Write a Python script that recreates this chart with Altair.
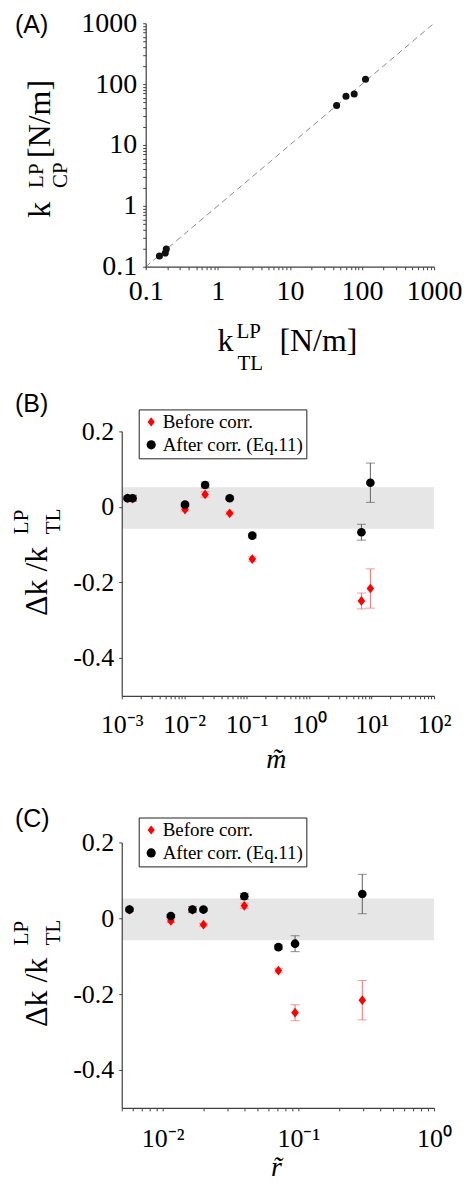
import math
import altair as alt
import pandas as pd

# ---------------- Panel (A) data ----------------
k_tl = [0.155, 0.187, 0.193, 44.5, 60.0, 78.0, 112.0]
k_cp = [0.150, 0.168, 0.195, 44.6, 63.0, 69.0, 120.0]
diag = [0.1, 1000.0]
a_domain = [0.1, 1000.0]
a_ticks = [0.1, 1, 10, 100, 1000]
a_tick_labels = ["0.1", "1", "10", "100", "1000"]

# ---------------- Panels (B), (C) data ----------------
series = ["Before corr.", "After corr. (Eq.11)"]
m_tilde = [0.00124, 0.00149, 0.0103, 0.0216, 0.0535, 0.123, 6.87, 9.56]
r_tilde = [0.0057, 0.0166, 0.0115, 0.040, 0.020, 0.0713, 0.0946, 0.296]
before = [0.023, 0.022, -0.007, 0.033, -0.017, -0.138, -0.249, -0.216]
before_err = [0.004, 0.004, 0.004, 0.007, 0.004, 0.006, 0.021, 0.052]
after = [0.023, 0.023, 0.006, 0.058, 0.023, -0.076, -0.067, 0.064]
after_err = [0.004, 0.008, 0.004, 0.008, 0.004, 0.006, 0.021, 0.052]
band = [-0.058, 0.052]
m_domain = [0.001, 100.0]
r_domain = [0.005, 1.0]
m_ticks = [0.001, 0.01, 0.1, 1, 10, 100]
m_tick_labels = ["10⁻³", "10⁻²", "10⁻¹", "10⁰", "10¹", "10²"]
r_ticks = [0.01, 0.1, 1]
r_tick_labels = ["10⁻²", "10⁻¹", "10⁰"]
dk_domain = [-0.5, 0.2]
dk_ticks = [0.2, 0, -0.2, -0.4]
dk_tick_labels = ["0.2", "0", "-0.2", "-0.4"]

SERIF = "Liberation Serif"
SANS = "Liberation Sans"
W = 313


def log_ticks(lo, hi):
    vals = []
    e = math.floor(math.log10(lo) + 1e-9)
    while float(f"1e{e}") <= hi * 1.0001:
        for k in range(1, 10):
            v = float(f"{k}e{e}")
            if lo * 0.9999 <= v <= hi * 1.0001:
                vals.append(v)
        e += 1
    return vals


def label_expr(vals, labs):
    s = "''"
    for v, l in reversed(list(zip(vals, labs))):
        s = f"datum.value == {v!r} ? '{l}' : ({s})"
    return s


common = dict(domainColor="#404040", domainWidth=1.2, tickColor="#404040",
              tickWidth=1, tickSize=3, labelFont=SERIF, labelColor="black",
              grid=False, title=None, labelOverlap=False, labelFlush=False,
              zindex=1)


def txt(text, x, y, size, angle=0, font=SERIF, style="normal", align="left"):
    return alt.Chart(pd.DataFrame({"t": [text]})).mark_text(
        align=align, baseline="alphabetic", fontSize=size, font=font,
        fontStyle=style, angle=angle, color="black"
    ).encode(x=alt.value(x), y=alt.value(y), text="t:N")


# ---------------- Panel (A) ----------------
A_H = 244
xsA = alt.Scale(type="log", domain=a_domain, range=[24, W], nice=False)
ysA = alt.Scale(type="log", domain=a_domain, range=[A_H, 0], nice=False)
xaA = alt.Axis(values=log_ticks(*a_domain), labelExpr=label_expr(a_ticks, a_tick_labels),
               labelFontSize=28, labelPadding=8, offset=-18, **common)
yaA = alt.Axis(values=log_ticks(*a_domain), labelExpr=label_expr(a_ticks, a_tick_labels),
               labelFontSize=28, labelPadding=6, offset=-24, **common)
XA = alt.X("kx:Q", scale=xsA, axis=xaA)
YA = alt.Y("ky:Q", scale=ysA, axis=yaA)

diag_layer = alt.Chart(pd.DataFrame({"kx": diag, "ky": diag})).mark_line(
    color="#8c8c8c", strokeDash=[6, 4], strokeWidth=1).encode(x=XA, y=YA)
ptsA = alt.Chart(pd.DataFrame({"kx": k_tl, "ky": k_cp})).mark_point(
    filled=True, size=50, color="#111111", opacity=1).encode(x=XA, y=YA)

panelA = alt.layer(
    diag_layer, ptsA,
    txt("(A)", -107, 10, 25, font=SANS),
    # y title: k_CP^LP [N/m]
    txt("k", -72, 195, 32, angle=270),
    txt("LP", -79, 165, 21, angle=270),
    txt("CP", -55, 165, 21, angle=270),
    txt("[N/m]", -72, 135, 32, angle=270),
    # x title: k_TL^LP [N/m]
    txt("k", 96, 328, 32),
    txt("LP", 115, 315, 21),
    txt("TL", 116, 348, 21),
    txt("[N/m]", 158, 328, 32),
).properties(width=W, height=262)


# ---------------- Panels (B) / (C) ----------------
def make_legend(legend_y):
    return alt.Legend(orient="none", legendX=17, legendY=legend_y, title=None,
                      strokeColor="#222222", fillColor="white", padding=3,
                      labelFont=SERIF, labelFontSize=19, labelColor="black",
                      symbolSize=85, labelLimit=400, rowPadding=3,
                      labelOffset=2, symbolStrokeWidth=0, cornerRadius=0)


def dk_panel(xvals, xdomain, major, labels, xtitle, tag, legend_y, height, xlabpad, tag_y, xt_y):
    xs = alt.Scale(type="log", domain=xdomain, nice=False)
    ys = alt.Scale(domain=dk_domain, nice=False, zero=False)
    xa = alt.Axis(values=log_ticks(*xdomain), labelExpr=label_expr(major, labels),
                  labelFontSize=26, labelPadding=xlabpad, **common)
    ya = alt.Axis(values=dk_ticks, labelExpr=label_expr(dk_ticks, dk_tick_labels),
                  labelFontSize=26, labelPadding=5, **common)

    def X(f):
        return alt.X(f, type="quantitative", scale=xs, axis=xa)

    def Y(f):
        return alt.Y(f, type="quantitative", scale=ys, axis=ya)

    color = alt.Color("s:N", scale=alt.Scale(domain=series, range=["#ff0000", "#000000"]),
                      legend=make_legend(legend_y))
    shape = alt.Shape("s:N", scale=alt.Scale(domain=series,
                                             range=["M0,-1L0.78,0L0,1L-0.78,0Z", "circle"]),
                      legend=make_legend(legend_y))

    band_df = pd.DataFrame({"x": [xdomain[0]], "x2": [xdomain[1]],
                            "lo": [band[0]], "hi": [band[1]]})
    band_layer = alt.Chart(band_df).mark_rect(color="#e6e6e6").encode(
        x=X("x"), x2="x2", y=Y("lo"), y2="hi")

    layers = [band_layer]
    for name, vals, errs, ecol, msize in [(series[0], before, before_err, "#f07070", 95),
                                          (series[1], after, after_err, "#606060", 75)]:
        df = pd.DataFrame({"x": xvals, "v": vals,
                           "lo": [v - e for v, e in zip(vals, errs)],
                           "hi": [v + e for v, e in zip(vals, errs)],
                           "s": [name] * len(vals)})
        base = alt.Chart(df)
        layers.append(base.mark_rule(color=ecol, strokeWidth=1).encode(x=X("x"), y=Y("lo"), y2="hi"))
        layers.append(base.mark_tick(color=ecol, orient="horizontal", size=9, thickness=1)
                      .encode(x=X("x"), y=Y("lo")))
        layers.append(base.mark_tick(color=ecol, orient="horizontal", size=9, thickness=1)
                      .encode(x=X("x"), y=Y("hi")))
        layers.append(base.mark_point(filled=True, size=msize, opacity=1).encode(
            x=X("x"), y=Y("v"), color=color, shape=shape))

    layers += [
        txt(tag, -107, tag_y, 25, font=SANS),
        txt("Δk /k", -75, 185, 32, angle=270),
        txt("LP", -94, 103, 21, angle=270),
        txt("TL", -62, 103, 21, angle=270),
        txt(xtitle, 155, xt_y, 28, style="italic", align="center"),
    ]
    return alt.layer(*layers).properties(width=W, height=height)


panelB = dk_panel(m_tilde, m_domain, m_ticks, m_tick_labels, "m̃", "(B)", -22, 265, 13, -19, 337)
panelC = dk_panel(r_tilde, r_domain, r_ticks, r_tick_labels, "r̃", "(C)", -25, 266, 15, -15, 334)

chart = alt.vconcat(panelA, panelB, panelC, spacing=147, bounds="flush").resolve_scale(
    color="independent", shape="independent"
).resolve_legend(
    color="independent", shape="independent"
).properties(
    padding={"left": 3, "top": 0, "right": 0, "bottom": 0}
).configure_view(strokeWidth=0).configure_axis(labelFont=SERIF)

chart.save("out.html", embed_options={"renderer": "svg", "actions": False})
